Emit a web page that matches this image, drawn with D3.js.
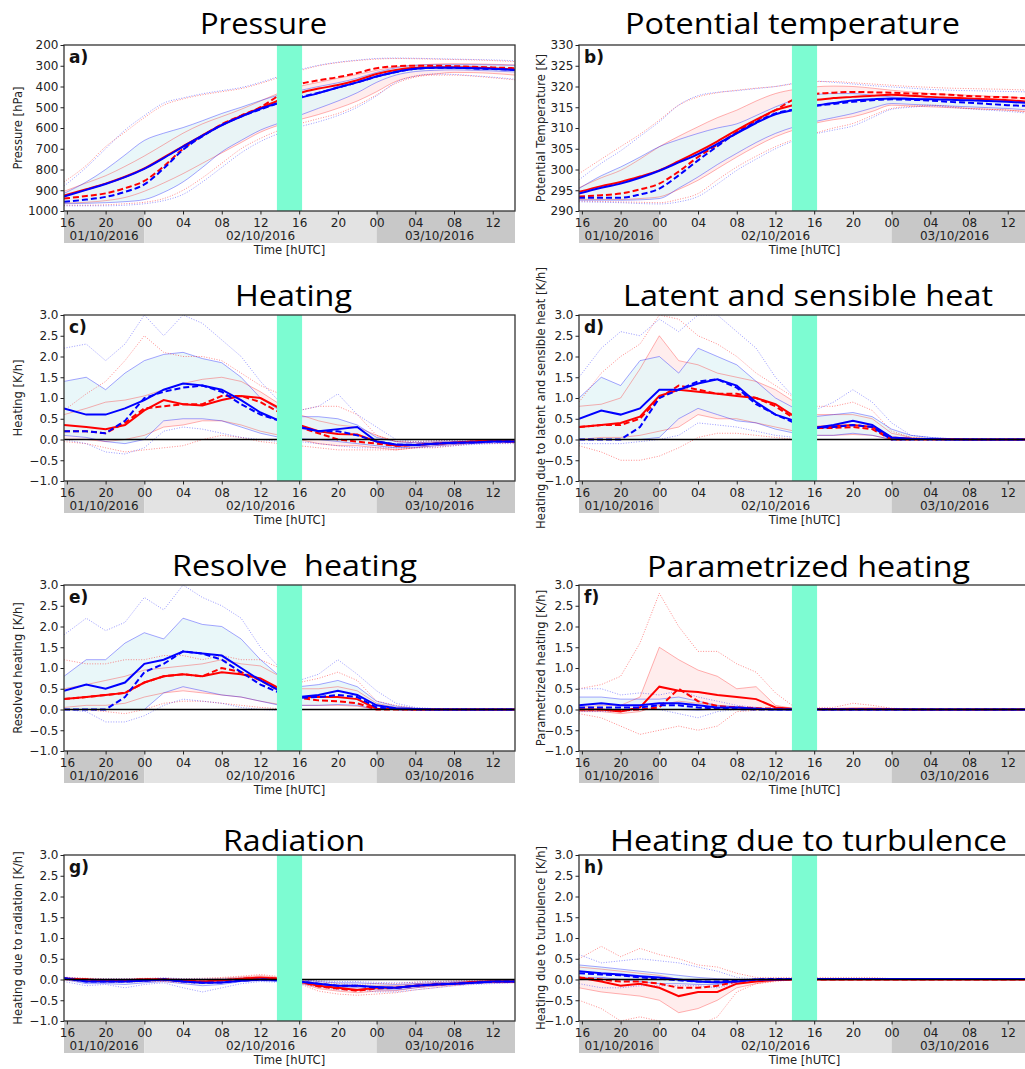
<!DOCTYPE html>
<html><head><meta charset="utf-8">
<script src="https://cdn.jsdelivr.net/npm/d3@7"></script>
<style>body{margin:0;background:#fff}</style>
</head><body><svg id="c" width="1025" height="1069"></svg>
<script>
// time grid (hours since 01/10/2016 00 UTC)
const hours = [15.7,18,20,22,24,26, 28,30,32,34,36,38, 40,42,44,46,48,50, 52,54,56,58,60,62.3];
const tickHours = [16,20,24,28,32,36,40,44,48,52,56,60];
const tickLabels = ["16","20","00","04","08","12","16","20","00","04","08","12"];
const dayStarts = [15.7,24,48];
const dayEnds = [24,48,62.3];
const dayLabels = ["01/10/2016","02/10/2016","03/10/2016"];
const dayLabelHours = [19.85,36,54.5];
const highlight = [37.7,40.3];

// a) Pressure
const aRedMean   = [925,895,868,835,795,742, 688,635,585,542,503,465, 432,410,393,370,340,320, 310,307,307,308,312,318];
const aBlueMean  = [930,898,870,837,797,745, 690,637,587,545,507,478, 455,432,405,380,352,330, 315,310,310,312,315,320];
const aRedMedian = [940,928,915,890,855,785, 700,638,582,540,500,440, 390,370,355,335,312,302, 300,300,302,305,308,312];
const aBlueMedian= [955,945,932,908,872,795, 705,640,585,545,510,478, 452,430,405,380,352,330, 315,310,310,313,316,320];
const aBlueP75 = [915,860,800,730,660,625, 598,565,530,500,468,440, 420,400,382,360,332,310, 298,295,295,295,296,298];
const aBlueP25 = [965,963,960,955,945,910, 860,790,715,660,610,575, 540,505,470,430,380,345, 328,322,320,322,325,330];
const aRedP75  = [905,865,830,785,735,680, 625,580,545,510,470,430, 400,380,360,342,322,305, 297,292,290,291,293,296];
const aRedP25  = [962,958,950,935,905,865, 820,770,720,670,620,585, 560,535,505,470,425,375, 350,340,332,333,337,345];
const aRedP90  = [860,780,690,620,550,490, 460,440,425,410,385,355, 325,300,285,275,268,265, 266,268,270,272,275,280];
const aBlueP90 = [880,790,700,610,540,480, 455,435,420,405,380,350, 320,298,283,273,265,263, 264,266,268,270,272,276];
const aRedP10  = [972,972,970,965,958,940, 900,840,770,700,650,610, 580,555,530,490,440,385, 355,345,345,350,358,368];
const aBlueP10 = [975,975,975,972,965,950, 920,860,790,720,665,625, 595,570,540,500,445,380, 350,340,342,348,355,365];

// b) Potential temperature
const bRedMean   = [294.6,296,297,298.3,299.8,302, 304.3,306.8,309.5,312,314.3,315.6, 316.7,317.2,317.5,317.8,318,317.8, 317.5,317.3,317.1,316.9,316.7,316.3];
const bBlueMean  = [294.2,295.6,296.6,298,299.7,301.7, 303.7,306.2,308.7,311.2,313.3,314.4, 315.3,316,316.6,316.9,317.1,317, 316.9,316.8,316.7,316.5,316.3,316];
const bRedMedian = [293.5,293.8,294.2,295.2,296.6,299.5, 303,306,309,311.8,314.3,317, 318.2,318.5,318.7,318.6,318.5,318.3, 318.2,318,317.7,317.5,317.4,317.1];
const bBlueMedian= [293.2,293.2,293.2,294,295.4,298.6, 302.2,305.6,308.8,311.4,313.5,314.5, 315.3,315.8,316.3,316.7,316.9,316.8, 316.6,316.3,316.1,315.8,315.5,315.3];
const bBlueP75 = [295.4,298.5,300.6,303,305.5,307.2, 308.7,310,311,313,315.1,316.8, 318,318.3,318.3,317.9,317.5,317.2, 316.9,316.8,316.7,316.5,316.3,316.1];
const bBlueP25 = [292.6,292.6,292.6,292.7,293,295.5, 298.2,301.2,303.9,306.5,308.7,310.3, 311.5,312.5,313.5,314.8,315.9,315.7, 315.5,315.3,315.1,314.9,314.7,314.3];
const bRedP75  = [295.6,298,299.8,302.5,305.5,308, 310.3,312.5,314.3,316.5,318.3,319.3, 319.9,320.1,320,319.6,319.1,318.7, 318.3,318.1,317.9,317.7,317.5,317.1];
const bRedP25  = [292.8,292.8,292.8,293,293.4,295.2, 297.4,300.2,303,305.6,307.9,309.6, 311.1,312,312.7,314,315.5,315.3, 315.1,314.9,314.7,314.5,314.3,313.9];
const bRedP90  = [299,302.5,305.5,308.5,311.9,315.5, 317.5,318.5,319.1,319.6,320,320.7, 321.2,321.2,320.9,320.6,320.3,320, 319.8,319.6,319.5,319.4,319.3,319.1];
const bBlueP90 = [297.5,301.5,304.5,308,311.5,315.5, 317.8,318.6,319,319.5,320,320.8, 321.3,321,320.6,320.2,319.9,319.6, 319.3,319.1,319,318.9,318.8,318.7];
const bRedP10  = [292.4,292.3,292.2,292.1,292,292.8, 294.2,297.5,300.6,303.2,305.5,307.3, 308.7,310,311.1,313,314.7,315.2, 315.5,315.2,314.7,314.5,314.3,313.7];
const bBlueP10 = [292.2,292.1,292,291.8,291.7,292.2, 293.5,296.5,299.8,302.5,305,307, 308.5,309.5,310.5,312.5,314.5,315, 315.3,315,314.6,314.3,314,313.5];

// c) Heating
const cRedMean   = [0.35,0.3,0.25,0.35,0.7,0.95, 0.85,0.82,0.95,1.05,1.0,0.75, 0.35,0.2,0.13,0.12,-0.05,-0.15, -0.13,-0.1,-0.08,-0.05,-0.03,-0.05];
const cBlueMean  = [0.75,0.6,0.6,0.75,0.95,1.2, 1.35,1.3,1.2,0.95,0.65,0.45, 0.3,0.2,0.25,0.3,-0.05,-0.12, -0.13,-0.1,-0.08,-0.07,-0.05,-0.05];
const cRedMedian = [0.2,0.2,0.15,0.4,0.75,0.8, 0.85,0.85,1.05,1.05,0.9,0.65, 0.3,0.15,0.0,-0.05,-0.1,-0.15, -0.13,-0.1,-0.08,-0.05,-0.03,-0.05];
const cBlueMedian= [0.2,0.2,0.15,0.45,1.0,1.15, 1.25,1.3,1.15,0.85,0.6,0.45, 0.3,0.2,0.2,0.1,-0.05,-0.12, -0.13,-0.1,-0.08,-0.07,-0.05,-0.05];
const cBlueP75 = [1.4,1.5,1.2,1.6,1.9,2.05, 2.1,1.95,1.85,1.5,1.0,0.7, 0.55,0.55,0.5,0.35,0.05,-0.05, -0.08,-0.06,-0.05,-0.04,-0.03,-0.03];
const cBlueP25 = [0.1,0.05,-0.05,-0.1,0.0,0.45, 0.5,0.5,0.45,0.3,0.15,0.05, 0.02,0.0,-0.05,-0.1,-0.15,-0.2, -0.18,-0.15,-0.12,-0.1,-0.08,-0.07];
const cRedP75  = [0.6,0.75,0.9,0.95,1.05,1.2, 1.35,1.45,1.5,1.4,1.15,0.85, 0.6,0.45,0.35,0.3,0.1,-0.05, -0.08,-0.06,-0.05,-0.03,-0.02,-0.03];
const cRedP25  = [0.0,0.0,-0.05,0.0,0.1,0.3, 0.35,0.45,0.45,0.35,0.2,0.1, 0.0,-0.1,-0.15,-0.15,-0.2,-0.25, -0.2,-0.15,-0.12,-0.08,-0.05,-0.05];
const cBlueP90 = [2.2,2.3,1.9,2.3,3.0,2.5, 3.0,2.8,2.4,2.0,1.4,0.9, 0.7,0.8,1.1,0.6,0.3,0.0, -0.05,-0.03,-0.02,-0.02,-0.02,-0.02];
const cBlueP10 = [0.0,-0.1,-0.3,-0.35,-0.2,0.2, 0.3,0.25,0.15,0.05,0.0,-0.05, -0.05,-0.1,-0.15,-0.2,-0.2,-0.2, -0.2,-0.18,-0.15,-0.12,-0.1,-0.1];
const cRedP90  = [0.7,1.1,1.4,1.9,2.5,2.1, 2.0,2.0,1.9,1.6,1.3,1.1, 0.7,0.8,0.8,0.6,0.1,-0.05, -0.05,-0.03,-0.02,0.0,0.0,-0.02];
const cRedP10  = [-0.05,-0.1,-0.2,-0.3,-0.25,-0.2, -0.15,0.0,0.1,0.05,-0.05,-0.1, -0.15,-0.2,-0.25,-0.25,-0.25,-0.25, -0.2,-0.2,-0.15,-0.1,-0.1,-0.08];

// d) Latent and sensible heat
const dRedMean   = [0.3,0.35,0.4,0.55,1.05,1.2, 1.15,1.1,1.05,1.0,0.85,0.55, 0.3,0.32,0.35,0.3,0.05,0.02, 0.01,0.01,0,0,0,0];
const dBlueMean  = [0.5,0.7,0.6,0.75,1.2,1.2, 1.35,1.45,1.3,0.9,0.6,0.45, 0.28,0.35,0.45,0.35,0.05,0.02, 0.01,0,0,0,0,0];
const dRedMedian = [0.3,0.35,0.35,0.5,1.0,1.3, 1.2,1.1,1.1,1.0,0.8,0.5, 0.28,0.28,0.3,0.25,0.0,0, 0,0,0,0,0,0];
const dBlueMedian= [0.0,0.0,0.0,0.3,1.0,1.2, 1.4,1.45,1.25,0.85,0.6,0.4, 0.28,0.3,0.35,0.3,0.0,0, 0,0,0,0,0,0];
const dBlueP75 = [1.0,1.5,1.3,1.9,2.0,1.6, 2.2,2.0,1.8,1.4,1.0,0.75, 0.55,0.6,0.65,0.55,0.25,0.1, 0.05,0.02,0.01,0,0,0];
const dBlueP25 = [0,0,0,0,0.05,0.5, 0.75,0.6,0.45,0.4,0.25,0.15, 0.1,0.1,0.15,0.1,0,0, 0,0,0,0,0,0];
const dRedP75  = [0.8,0.85,1.0,1.7,2.5,1.9, 1.8,1.6,1.5,1.4,1.2,0.9, 0.6,0.6,0.6,0.5,0.15,0.05, 0.02,0.01,0,0,0,0];
const dRedP25  = [0,0.05,0.05,0.1,0.2,0.3, 0.6,0.5,0.5,0.4,0.3,0.2, 0.1,0.1,0.12,0.1,0,0, 0,0,0,0,0,0];
const dBlueP90 = [1.5,2.2,2.6,2.5,2.9,2.6, 3.0,3.0,2.6,2.2,1.5,1.0, 0.7,0.9,1.2,0.9,0.4,0.1, 0.05,0.02,0.01,0,0,0];
const dBlueP10 = [-0.1,-0.1,-0.1,-0.05,0.0,0.1, 0.4,0.35,0.3,0.2,0.1,0.05, 0,0,0,0,0,0, 0,0,0,0,0,0];
const dRedP90  = [0.9,1.6,2.0,2.3,3.0,2.9, 2.5,2.3,2.0,1.6,1.3,1.0, 0.8,0.8,0.9,0.7,0.2,0.05, 0.02,0.02,0.01,0,0,0];
const dRedP10  = [-0.15,-0.3,-0.5,-0.5,-0.4,-0.2, 0.05,0.15,0.15,0.1,0.05,0, 0,0,0,0,0,0, 0,0,0,0,0,0];

// e) Resolved heating
const eRedMean   = [0.25,0.3,0.35,0.4,0.65,0.8, 0.85,0.8,0.9,0.85,0.75,0.5, 0.3,0.3,0.3,0.25,0.02,0.01, 0,0,0,0,0,0];
const eBlueMean  = [0.45,0.6,0.5,0.65,1.1,1.2, 1.4,1.35,1.3,1.0,0.7,0.45, 0.3,0.35,0.45,0.35,0.1,0.03, 0.01,0,0,0,0,0];
const eRedMedian = [0.25,0.3,0.35,0.4,0.65,0.8, 0.85,0.8,1.0,0.9,0.7,0.45, 0.28,0.22,0.2,0.15,0.0,0, 0,0,0,0,0,0];
const eBlueMedian= [0,0,0,0.3,0.9,1.1, 1.4,1.35,1.2,0.9,0.6,0.4, 0.28,0.3,0.35,0.3,0.05,0.01, 0,0,0,0,0,0];
const eBlueP75 = [0.8,1.2,1.2,1.6,1.85,1.7, 2.2,2.05,2.0,1.7,1.2,0.8, 0.55,0.6,0.7,0.55,0.2,0.08, 0.03,0.01,0,0,0,0];
const eBlueP25 = [0,0,0,0,0,0.4, 0.55,0.45,0.35,0.3,0.2,0.1, 0.1,0.1,0.12,0.1,0,0, 0,0,0,0,0,0];
const eRedP75  = [0.5,0.6,0.7,0.8,0.95,1.0, 1.05,1.1,1.2,1.1,1.05,0.8, 0.5,0.5,0.55,0.45,0.15,0.05, 0.02,0.01,0,0,0,0];
const eRedP25  = [0.05,0.1,0.1,0.15,0.3,0.4, 0.45,0.4,0.35,0.3,0.2,0.12, 0.1,0.1,0.1,0.08,0,0, 0,0,0,0,0,0];
const eBlueP90 = [1.8,2.2,1.9,2.1,2.7,2.4, 3.0,2.7,2.5,2.2,1.5,1.0, 0.7,0.85,1.2,0.85,0.45,0.15, 0.05,0.02,0.01,0,0,0];
const eBlueP10 = [0,-0.05,-0.3,-0.3,-0.15,0.1, 0.25,0.2,0.15,0.05,0,-0.02, 0,0,0,0,0,0, 0,0,0,0,0,0];
const eRedP90  = [1.2,1.1,1.1,1.2,1.2,1.3, 1.3,1.2,1.3,1.2,1.2,1.0, 0.65,0.75,0.9,0.7,0.2,0.1, 0.03,0.02,0.01,0,0,0];
const eRedP10  = [0,0,-0.05,-0.1,0,0.15, 0.2,0.2,0.15,0.1,0.05,0.02, 0,0,0,0,0,0, 0,0,0,0,0,0];

// f) Parametrized heating
const fRedMean   = [0,0,-0.05,0.05,0.55,0.45, 0.42,0.35,0.3,0.25,0.05,0.01, 0.01,0.01,0.02,0.02,0.01,0, 0,0,0,0,0,0];
const fBlueMean  = [0.1,0.15,0.1,0.1,0.15,0.15, 0.1,0.05,0.05,0.02,0,0, 0,0,0,0,0,0, 0,0,0,0,0,0];
const fRedMedian = [0,0,-0.02,0,0.05,0.5, 0.2,0.08,0.05,0.03,0.02,0, 0,0,0,0,0,0, 0,0,0,0,0,0];
const fBlueMedian= [0.05,0.05,0.05,0.05,0.1,0.1, 0.05,0.02,0.01,0,0,0, 0,0,0,0,0,0, 0,0,0,0,0,0];
const fBlueP75 = [0.3,0.3,0.25,0.25,0.25,0.3, 0.2,0.1,0.07,0.03,0,0, 0,0,0,0,0,0, 0,0,0,0,0,0];
const fBlueP25 = [0,0,0,0,0,0, -0.02,0,0,0,0,0, 0,0,0,0,0,0, 0,0,0,0,0,0];
const fRedP75  = [0.05,0.1,0.1,0.3,1.5,1.2, 0.95,0.8,0.5,0.55,0.1,0.02, 0.01,0.01,0.02,0.02,0.01,0, 0,0,0,0,0,0];
const fRedP25  = [-0.05,-0.05,-0.1,-0.05,0.1,0.2, 0.15,0.1,0.05,0.05,0,0, 0,0,0,0,0,0, 0,0,0,0,0,0];
const fBlueP90 = [0.5,0.5,0.35,0.4,0.35,0.45, 0.3,0.2,0.1,0.05,0,0, 0,0,0,0,0,0, 0,0,0,0,0,0];
const fBlueP10 = [-0.05,-0.05,-0.05,0,0,-0.1, -0.2,-0.05,0,0,0,0, 0,0,0,0,0,0, 0,0,0,0,0,0];
const fRedP90  = [0.5,0.6,0.8,1.6,2.8,2.0, 1.4,1.4,1.1,0.9,0.4,0.05, 0.05,0.05,0.15,0.1,0.03,0.02, 0.01,0,0,0,0,0];
const fRedP10  = [-0.1,-0.2,-0.4,-0.6,-0.5,-0.4, -0.5,-0.4,-0.05,-0.02,0,0, 0,0,0,0,0,0, 0,0,0,0,0,0];

// g) Radiation
const gRedMean   = [0.02,0,-0.03,-0.02,0,0, -0.03,-0.05,-0.02,0.02,0.05,0.02, -0.05,-0.15,-0.2,-0.25,-0.2,-0.2, -0.15,-0.12,-0.1,-0.06,-0.05,-0.05];
const gBlueMean  = [0.03,-0.05,-0.05,-0.05,-0.03,0, -0.05,-0.08,-0.07,-0.03,0,-0.02, -0.05,-0.1,-0.15,-0.15,-0.18,-0.2, -0.15,-0.12,-0.1,-0.08,-0.05,-0.05];
const gRedMedian = [0.02,0,-0.03,-0.02,0,0, -0.03,-0.05,-0.02,0.02,0.04,0.02, -0.05,-0.17,-0.22,-0.27,-0.22,-0.2, -0.15,-0.12,-0.1,-0.06,-0.05,-0.05];
const gBlueMedian= [0.03,-0.05,-0.05,-0.05,-0.03,0, -0.05,-0.08,-0.07,-0.03,0,-0.02, -0.05,-0.1,-0.15,-0.15,-0.2,-0.2, -0.15,-0.12,-0.1,-0.08,-0.05,-0.05];
const gBlueP75 = [0.05,0,0,0,0,0.02, 0,0,0,0.02,0.03,0.02, 0,-0.05,-0.08,-0.08,-0.1,-0.12, -0.1,-0.08,-0.06,-0.05,-0.03,-0.03];
const gBlueP25 = [0,-0.1,-0.1,-0.12,-0.08,-0.05, -0.1,-0.15,-0.12,-0.05,-0.03,-0.05, -0.08,-0.15,-0.2,-0.2,-0.25,-0.25, -0.2,-0.15,-0.12,-0.1,-0.08,-0.07];
const gRedP75  = [0.04,0.02,0,0,0.02,0.02, 0,0,0.03,0.06,0.09,0.05, -0.02,-0.1,-0.15,-0.18,-0.15,-0.15, -0.1,-0.08,-0.06,-0.04,-0.03,-0.03];
const gRedP25  = [0,-0.03,-0.05,-0.05,-0.03,-0.03, -0.06,-0.08,-0.05,0,0.02,0, -0.08,-0.22,-0.28,-0.32,-0.28,-0.27, -0.2,-0.16,-0.13,-0.08,-0.07,-0.07];
const gBlueP90 = [0.06,0.02,0.02,0.02,0.02,0.04, 0.02,0.02,0.02,0.04,0.05,0.03, 0.01,-0.03,-0.05,-0.05,-0.07,-0.08, -0.07,-0.05,-0.04,-0.03,-0.02,-0.02];
const gBlueP10 = [-0.05,-0.15,-0.12,-0.2,-0.12,-0.08, -0.2,-0.3,-0.2,-0.1,-0.05,-0.07, -0.1,-0.18,-0.25,-0.25,-0.3,-0.3, -0.25,-0.2,-0.15,-0.12,-0.1,-0.08];
const gRedP90  = [0.05,0.03,0.02,0.02,0.03,0.03, 0.02,0.03,0.05,0.08,0.12,0.07, 0,-0.05,-0.1,-0.12,-0.1,-0.1, -0.06,-0.05,-0.03,-0.02,-0.02,-0.02];
const gRedP10  = [-0.02,-0.05,-0.07,-0.07,-0.05,-0.05, -0.08,-0.1,-0.08,-0.03,0,-0.03, -0.1,-0.28,-0.35,-0.38,-0.35,-0.32, -0.25,-0.2,-0.15,-0.1,-0.08,-0.08];

// h) Turbulence
const hRedMean   = [0.05,-0.05,-0.15,-0.1,-0.2,-0.4, -0.3,-0.3,-0.1,-0.05,-0.01,0, 0,0,0,0,0,0, 0,0,0,0,0,0];
const hBlueMean  = [0.2,0.15,0.12,0.08,0.05,0, -0.05,-0.07,-0.05,0,0,0.01, 0.01,0.01,0.01,0.01,0.01,0.01, 0.01,0.01,0.01,0.01,0.01,0.01];
const hRedMedian = [0.05,0,-0.05,-0.05,-0.1,-0.2, -0.2,-0.15,-0.05,-0.02,0,0, 0,0,0,0,0,0, 0,0,0,0,0,0];
const hBlueMedian= [0.15,0.12,0.1,0.05,0.02,-0.02, -0.05,-0.05,-0.03,0,0.01,0.01, 0.01,0.01,0.01,0.01,0.01,0.01, 0.01,0.01,0.01,0.01,0.01,0.01];
const hBlueP75 = [0.35,0.3,0.25,0.2,0.15,0.1, 0.05,0.02,0,0.01,0.01,0.01, 0.01,0.01,0.01,0.01,0.01,0.01, 0.01,0.01,0.01,0.01,0.01,0.01];
const hBlueP25 = [0.05,0.05,0,-0.05,-0.1,-0.1, -0.12,-0.12,-0.07,-0.02,0,0, 0,0,0,0,0,0, 0,0,0,0,0,0];
const hRedP75  = [0.3,0.25,0.2,0.15,0.1,0, -0.05,-0.05,0,0,0.01,0.01, 0.01,0.01,0.01,0.01,0.01,0, 0,0,0,0,0,0];
const hRedP25  = [-0.2,-0.3,-0.35,-0.4,-0.5,-0.8, -0.7,-0.5,-0.2,-0.1,-0.03,0, 0,0,0,0,0,0, 0,0,0,0,0,0];
const hBlueP90 = [0.6,0.4,0.45,0.5,0.45,0.4, 0.3,0.2,0.05,0.01,0.01,0.01, 0.01,0.01,0.01,0.01,0.01,0.01, 0.01,0.01,0.01,0.01,0.01,0.01];
const hBlueP10 = [-0.1,-0.2,-0.2,-0.15,-0.15,-0.15, -0.15,-0.2,-0.1,-0.05,0,0, 0,0,0,0,0,0, 0,0,0,0,0,0];
const hRedP90  = [0.5,0.8,0.55,0.75,0.6,0.5, 0.35,0.3,0.15,0.05,0.05,0.05, 0.05,0.05,0.05,0.05,0.02,0, 0,0,0,0,0,0];
const hRedP10  = [-0.5,-0.7,-1.0,-0.9,-1.0,-1.1, -1.1,-0.9,-0.3,-0.1,-0.05,0, 0,0,0,0,0,0, 0,0,0,0,0,0];

const heatTicks = [-1,-0.5,0,0.5,1,1.5,2,2.5,3];

const panels = [
 {k:"a",col:0,row:0,title:"Pressure",tx:200,tw:127,ty:34,ylabel:"Pressure [hPa]",dom:[1000,200],ticks:d3.range(200,1001,100),fmt:d3.format("d"),zero:false,smooth:true,
  s:[aRedMean,aRedMedian,aRedP25,aRedP75,aRedP10,aRedP90,aBlueMean,aBlueMedian,aBlueP25,aBlueP75,aBlueP10,aBlueP90]},
 {k:"b",col:1,row:0,title:"Potential temperature",tx:625,tw:335,ty:34,ylabel:"Potential Temperature [K]",dom:[290,330],ticks:d3.range(290,331,5),fmt:d3.format("d"),zero:false,smooth:true,
  s:[bRedMean,bRedMedian,bRedP25,bRedP75,bRedP10,bRedP90,bBlueMean,bBlueMedian,bBlueP25,bBlueP75,bBlueP10,bBlueP90]},
 {k:"c",col:0,row:1,title:"Heating",tx:235,tw:117,ty:306,ylabel:"Heating [K/h]",dom:[-1,3],ticks:heatTicks,fmt:d3.format(".1f"),zero:true,smooth:false,
  s:[cRedMean,cRedMedian,cRedP25,cRedP75,cRedP10,cRedP90,cBlueMean,cBlueMedian,cBlueP25,cBlueP75,cBlueP10,cBlueP90]},
 {k:"d",col:1,row:1,title:"Latent and sensible heat",tx:623,tw:370,ty:306,ylabel:"Heating due to latent and sensible heat [K/h]",dom:[-1,3],ticks:heatTicks,fmt:d3.format(".1f"),zero:true,smooth:false,
  s:[dRedMean,dRedMedian,dRedP25,dRedP75,dRedP10,dRedP90,dBlueMean,dBlueMedian,dBlueP25,dBlueP75,dBlueP10,dBlueP90]},
 {k:"e",col:0,row:2,title:"Resolve  heating",tx:172,tw:245,ty:576,ylabel:"Resolved heating [K/h]",dom:[-1,3],ticks:heatTicks,fmt:d3.format(".1f"),zero:true,smooth:false,
  s:[eRedMean,eRedMedian,eRedP25,eRedP75,eRedP10,eRedP90,eBlueMean,eBlueMedian,eBlueP25,eBlueP75,eBlueP10,eBlueP90]},
 {k:"f",col:1,row:2,title:"Parametrized heating",tx:647,tw:323,ty:577,ylabel:"Parametrized heating [K/h]",dom:[-1,3],ticks:heatTicks,fmt:d3.format(".1f"),zero:true,smooth:false,
  s:[fRedMean,fRedMedian,fRedP25,fRedP75,fRedP10,fRedP90,fBlueMean,fBlueMedian,fBlueP25,fBlueP75,fBlueP10,fBlueP90]},
 {k:"g",col:0,row:3,title:"Radiation",tx:223,tw:142,ty:851,ylabel:"Heating due to radiation [K/h]",dom:[-1,3],ticks:heatTicks,fmt:d3.format(".1f"),zero:true,smooth:false,
  s:[gRedMean,gRedMedian,gRedP25,gRedP75,gRedP10,gRedP90,gBlueMean,gBlueMedian,gBlueP25,gBlueP75,gBlueP10,gBlueP90]},
 {k:"h",col:1,row:3,title:"Heating due to turbulence",tx:610,tw:397,ty:851,ylabel:"Heating due to turbulence [K/h]",dom:[-1,3],ticks:heatTicks,fmt:d3.format(".1f"),zero:true,smooth:false,
  s:[hRedMean,hRedMedian,hRedP25,hRedP75,hRedP10,hRedP90,hBlueMean,hBlueMedian,hBlueP25,hBlueP75,hBlueP10,hBlueP90]}
];

const svg = d3.select("#c");
const colX = [64, 579], colYLabel = [18, 541];
const rowY = [45, 315, 585, 855];
const plotW = 451, plotH = 166, bandH = 32;
const FONT = "DejaVu Sans, sans-serif";
const defs = svg.append("defs");

panels.forEach(p => {
  const x0 = colX[p.col], y0 = rowY[p.row];
  const x = d3.scaleLinear().domain([15.7, 62.3]).range([x0, x0 + plotW]);
  const y = d3.scaleLinear().domain(p.dom).range([y0 + plotH, y0]);
  const g = svg.append("g");

  // date band
  dayStarts.forEach((s, i) => {
    g.append("rect").attr("x", x(s)).attr("y", y0 + plotH)
      .attr("width", x(dayEnds[i]) - x(s)).attr("height", bandH)
      .attr("fill", i === 1 ? "#e3e3e3" : "#c8c8c8");
    g.append("text").attr("x", x(dayLabelHours[i])).attr("y", y0 + plotH + 29)
      .attr("text-anchor", "middle").attr("font-family", FONT).attr("font-size", 12)
      .attr("fill", "#222").text(dayLabels[i]);
  });

  const cid = "clip" + p.k;
  defs.append("clipPath").attr("id", cid).append("rect")
    .attr("x", x0).attr("y", y0).attr("width", plotW).attr("height", plotH);
  const pg = g.append("g").attr("clip-path", `url(#${cid})`);
  pg.append("rect").attr("x", x0).attr("y", y0).attr("width", plotW).attr("height", plotH).attr("fill", "#fff");

  const curve = p.smooth ? d3.curveMonotoneX : d3.curveLinear;
  const line = d3.line().x((d, i) => x(hours[i])).y(d => y(d)).curve(curve);
  const area = d3.area().x((d, i) => x(hours[i])).y0(d => y(d[0])).y1(d => y(d[1])).curve(curve);
  const [rMean, rMed, r25, r75, r10, r90, bMean, bMed, b25, b75, b10, b90] = p.s;

  // bands
  pg.append("path").attr("d", area(d3.zip(r25, r75))).attr("fill", "rgba(255,0,0,0.07)");
  pg.append("path").attr("d", area(d3.zip(b25, b75))).attr("fill", "rgba(228,245,248,0.8)");
  [[r25, "rgba(255,0,0,0.3)"], [r75, "rgba(255,0,0,0.3)"], [b25, "rgba(0,0,255,0.35)"], [b75, "rgba(0,0,255,0.35)"]]
    .forEach(([arr, c]) => pg.append("path").attr("d", line(arr)).attr("fill", "none").attr("stroke", c).attr("stroke-width", 1));
  // dotted extremes
  [[r10, "rgba(255,0,0,0.45)"], [r90, "rgba(255,0,0,0.45)"], [b10, "rgba(0,0,255,0.4)"], [b90, "rgba(0,0,255,0.4)"]]
    .forEach(([arr, c]) => pg.append("path").attr("d", line(arr)).attr("fill", "none").attr("stroke", c)
      .attr("stroke-width", 1).attr("stroke-dasharray", "1,1.6"));
  // medians (dashed) and means (solid)
  pg.append("path").attr("d", line(rMed)).attr("fill", "none").attr("stroke", "#ff0000").attr("stroke-width", 2).attr("stroke-dasharray", "6,3");
  pg.append("path").attr("d", line(rMean)).attr("fill", "none").attr("stroke", "#ff0000").attr("stroke-width", 2);
  pg.append("path").attr("d", line(bMed)).attr("fill", "none").attr("stroke", "#0000ff").attr("stroke-width", 2).attr("stroke-dasharray", "6,3");
  pg.append("path").attr("d", line(bMean)).attr("fill", "none").attr("stroke", "#0000ff").attr("stroke-width", 2);

  if (p.zero) {
    pg.append("line").attr("x1", x0).attr("x2", x0 + plotW).attr("y1", y(0)).attr("y2", y(0))
      .attr("stroke", "#000").attr("stroke-width", 1.3);
  }
  // highlighted time window
  pg.append("rect").attr("x", x(highlight[0])).attr("y", y0).attr("width", x(highlight[1]) - x(highlight[0]))
    .attr("height", plotH).attr("fill", "#7dfcd2");

  // frame
  g.append("rect").attr("x", x0).attr("y", y0).attr("width", plotW).attr("height", plotH)
    .attr("fill", "none").attr("stroke", "#333").attr("stroke-width", 1.3);

  // y axis
  const ya = g.append("g").attr("transform", `translate(${x0},0)`)
    .call(d3.axisLeft(y).tickValues(p.ticks).tickFormat(p.fmt).tickSize(3.5).tickPadding(2));
  ya.select(".domain").remove();
  ya.selectAll("text").attr("font-family", FONT).attr("font-size", 12).attr("fill", "#222");
  ya.selectAll("line").attr("stroke", "#222");

  // x axis
  const xa = g.append("g").attr("transform", `translate(0,${y0 + plotH})`)
    .call(d3.axisBottom(x).tickValues(tickHours).tickFormat((d, i) => tickLabels[i]).tickSize(3.5).tickPadding(4));
  xa.select(".domain").remove();
  xa.selectAll("text").attr("font-family", FONT).attr("font-size", 12).attr("fill", "#222");
  xa.selectAll("line").attr("stroke", "#222");

  // axis labels
  g.append("text").attr("x", x0 + plotW / 2).attr("y", y0 + plotH + 43)
    .attr("text-anchor", "middle").attr("font-family", FONT).attr("font-size", 11.6).attr("fill", "#222")
    .text("Time [hUTC]");
  g.append("text").attr("transform", `translate(${colYLabel[p.col]},${y0 + plotH / 2}) rotate(-90)`)
    .attr("text-anchor", "middle").attr("dy", "0.35em").attr("font-family", FONT).attr("font-size", 11.6)
    .attr("fill", "#222").text(p.ylabel);

  // panel letter
  g.append("text").attr("x", x0 + 5).attr("y", y0 + 18).attr("font-family", FONT)
    .attr("font-weight", "bold").attr("font-size", 17).attr("fill", "#111").text(p.k + ")");

  // title
  g.append("text").attr("x", p.tx).attr("y", p.ty).attr("font-family", "Open Sans, Noto Sans, sans-serif")
    .attr("font-size", 30).attr("fill", "#000").style("white-space", "pre")
    .attr("textLength", p.tw).attr("lengthAdjust", "spacingAndGlyphs").text(p.title);
});
</script>
</body></html>
